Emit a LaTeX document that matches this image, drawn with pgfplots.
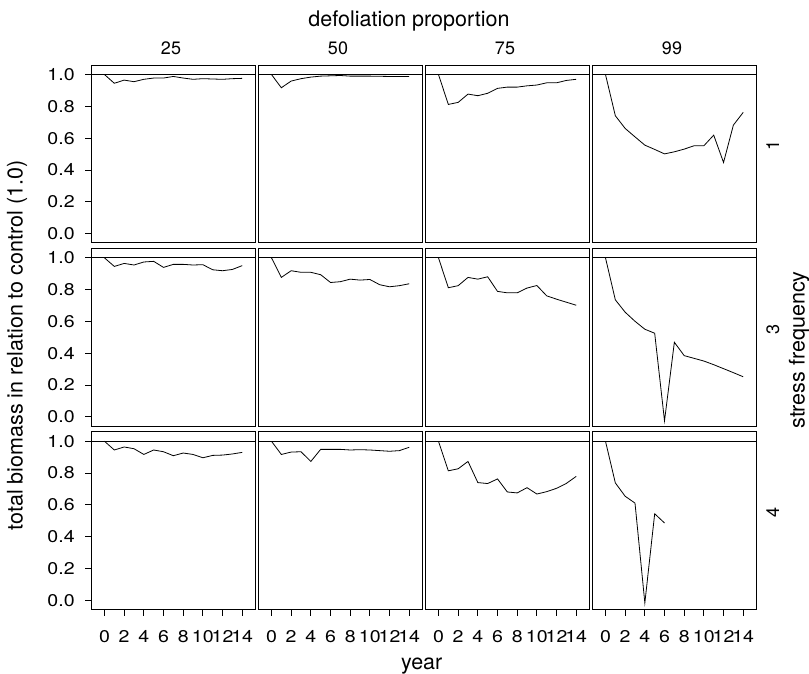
\documentclass[border=0pt]{standalone}
\usepackage{fontspec}
\setmainfont{TeX Gyre Heros}
\newfontfamily\tickfont{TeX Gyre Heros}[FakeStretch=1.15]
\usepackage{pgfplots}
\pgfplotsset{compat=1.18}
\pgfplotsset{
 panel/.style={scale only axis, width=163.3pt, height=177.6pt, anchor=north west,
  xmin=-1.3, xmax=15.3, ymin=-0.057, ymax=1.06,
  axis line style={line width=0.8pt},
  tick align=outside, major tick length=6.5pt, tick style={line width=0.8pt, black},
  xtick=\empty, ytick=\empty,
  /pgf/number format/assume math mode=true,
  ticklabel style={font=\tickfont\fontsize{17}{20}\selectfont},
 },
 leftcol/.style={ytick={0,0.2,0.4,0.6,0.8,1}, ytick pos=left,
  y tick label style={xshift=-7pt,/pgf/number format/.cd,fixed,fixed zerofill,precision=1,/tikz/.cd}},
 bottomrow/.style={xtick={0,2,4,6,8,10,12,14}, xtick pos=left, x tick label style={yshift=-11.5pt}},
 curve/.style={black, line width=0.8pt, mark=none},
}
\newcommand{\refline}{\addplot[curve] coordinates {(-2,1) (16,1)};}
\begin{document}
\begin{tikzpicture}
\useasboundingbox (0,0) rectangle (809pt,-673pt);
% row 1
\begin{axis}[panel, leftcol, at={(91.7pt,-65pt)}]
\refline
\addplot[curve] coordinates {(0,1) (1,0.945) (2,0.965) (3,0.955) (4,0.970) (5,0.978) (6,0.978) (7,0.988) (8,0.978) (9,0.970) (10,0.974) (11,0.972) (12,0.970) (13,0.974) (14,0.976)};
\end{axis}
\begin{axis}[panel, at={(258.7pt,-65pt)}]
\refline
\addplot[curve] coordinates {(0,1) (1,0.917) (2,0.959) (3,0.974) (4,0.984) (5,0.990) (6,0.992) (7,0.994) (8,0.990) (9,0.990) (10,0.990) (11,0.989) (12,0.988) (13,0.988) (14,0.988)};
\end{axis}
\begin{axis}[panel, at={(425.7pt,-65pt)}]
\refline
\addplot[curve] coordinates {(0,1) (1,0.812) (2,0.825) (3,0.877) (4,0.867) (5,0.882) (6,0.913) (7,0.921) (8,0.921) (9,0.929) (10,0.934) (11,0.948) (12,0.948) (13,0.963) (14,0.970)};
\end{axis}
\begin{axis}[panel, at={(592.7pt,-65pt)}]
\refline
\addplot[curve] coordinates {(0,1) (1,0.741) (2,0.661) (3,0.608) (4,0.556) (5,0.529) (6,0.501) (7,0.514) (8,0.531) (9,0.552) (10,0.552) (11,0.619) (12,0.447) (13,0.682) (14,0.762)};
\end{axis}
% row 2
\begin{axis}[panel, leftcol, at={(91.7pt,-248.3pt)}]
\refline
\addplot[curve] coordinates {(0,1) (1,0.946) (2,0.965) (3,0.955) (4,0.974) (5,0.978) (6,0.940) (7,0.959) (8,0.959) (9,0.955) (10,0.957) (11,0.925) (12,0.919) (13,0.927) (14,0.951)};
\end{axis}
\begin{axis}[panel, at={(258.7pt,-248.3pt)}]
\refline
\addplot[curve] coordinates {(0,1) (1,0.877) (2,0.919) (3,0.909) (4,0.909) (5,0.894) (6,0.845) (7,0.850) (8,0.866) (9,0.860) (10,0.864) (11,0.831) (12,0.818) (13,0.825) (14,0.837)};
\end{axis}
\begin{axis}[panel, at={(425.7pt,-248.3pt)}]
\refline
\addplot[curve] coordinates {(0,1) (1,0.812) (2,0.825) (3,0.877) (4,0.866) (5,0.881) (6,0.789) (7,0.780) (8,0.780) (9,0.810) (10,0.826) (11,0.761) (12,0.740) (13,0.721) (14,0.702)};
\end{axis}
\begin{axis}[panel, at={(592.7pt,-248.3pt)}]
\refline
\addplot[curve] coordinates {(0,1) (1,0.736) (2,0.658) (3,0.601) (4,0.551) (5,0.526) (6,-0.025) (7,0.469) (8,0.385) (9,0.368) (10,0.351) (11,0.328) (12,0.303) (13,0.278) (14,0.252)};
\end{axis}
% row 3
\begin{axis}[panel, leftcol, bottomrow, at={(91.7pt,-431.7pt)}]
\refline
\addplot[curve] coordinates {(0,1) (1,0.945) (2,0.964) (3,0.953) (4,0.917) (5,0.945) (6,0.934) (7,0.909) (8,0.926) (9,0.917) (10,0.896) (11,0.911) (12,0.913) (13,0.920) (14,0.930)};
\end{axis}
\begin{axis}[panel, bottomrow, at={(258.7pt,-431.7pt)}]
\refline
\addplot[curve] coordinates {(0,1) (1,0.917) (2,0.932) (3,0.934) (4,0.873) (5,0.949) (6,0.949) (7,0.949) (8,0.945) (9,0.947) (10,0.945) (11,0.941) (12,0.937) (13,0.941) (14,0.962)};
\end{axis}
\begin{axis}[panel, bottomrow, at={(425.7pt,-431.7pt)}]
\refline
\addplot[curve] coordinates {(0,1) (1,0.814) (2,0.827) (3,0.873) (4,0.740) (5,0.734) (6,0.763) (7,0.681) (8,0.675) (9,0.708) (10,0.668) (11,0.683) (12,0.704) (13,0.735) (14,0.779)};
\end{axis}
\begin{axis}[panel, bottomrow, at={(592.7pt,-431.7pt)}]
\refline
\addplot[curve] coordinates {(0,1) (1,0.738) (2,0.654) (3,0.611) (4,-0.017) (5,0.544) (6,0.486)};
\end{axis}
% labels
\begin{scope}[every node/.style={inner sep=0pt}]
\node[anchor=base, font=\fontsize{21.5}{24}\selectfont] at (409pt,-26.7pt) {defoliation proportion};
\node[anchor=base, font=\fontsize{21.5}{24}\selectfont] at (421.7pt,-669.5pt) {year};
\node[anchor=base, rotate=90, font=\fontsize{21.5}{24}\selectfont] at (22.7pt,-345.5pt) {total biomass in relation to control (1.0)};
\node[anchor=base, rotate=90, font=\fontsize{21.5}{24}\selectfont] at (804.5pt,-350pt) {stress frequency};
\foreach \x/\t in {171/25, 338/50, 505/75, 672/99}
  \node[anchor=base, font=\fontsize{18}{20}\selectfont] at (\x pt,-54pt) {\t};
\foreach \y/\t in {145/1, 329/3, 512/4}
  \node[anchor=base, rotate=90, font=\fontsize{18}{20}\selectfont] at (779pt,-\y pt) {\t};
\end{scope}
\end{tikzpicture}
\end{document}
